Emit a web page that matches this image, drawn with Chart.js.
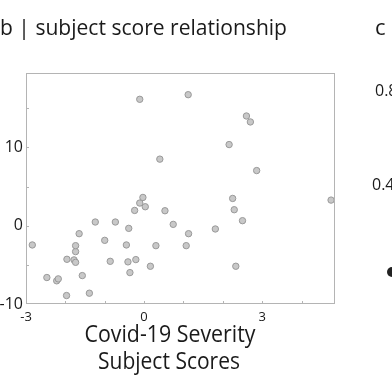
<!DOCTYPE html>
<html>
<head>
<meta charset="utf-8">
<script src="https://cdn.jsdelivr.net/npm/chart.js@4.4.1/dist/chart.umd.min.js"></script>
<style>
  html, body { margin: 0; padding: 0; background: #fff; }
  canvas { display: block; }
</style>
</head>
<body>
<canvas id="grafico" width="392" height="392"></canvas>
<script>
// Covid-19 severity subject scores (x) vs. other subject scores (y)
const puntajesX = [
  -0.11, 0.40, 1.12, 2.60, 2.70, 2.16, 2.86,
  -2.84, -2.47, -2.22, -2.18, -1.97, -1.96, -1.78, -1.74, -1.74, -1.74, -1.65, -1.57, -1.39,
  -1.24, -1.00, -0.86, -0.73, -0.45, -0.41, -0.39, -0.36, -0.24, -0.21, -0.11, -0.03, 0.03,
  0.16, 0.30, 0.53, 0.74,
  2.25, 2.29, 2.50, 1.81, 1.13, 1.07, 2.33, 4.75
];
const puntajesY = [
  16.14, 8.50, 16.73, 14.01, 13.25, 10.36, 7.04,
  -2.46, -6.62, -7.04, -6.79, -8.92, -4.29, -4.37, -4.68, -3.31, -2.55, -1.02, -6.37, -8.62,
  0.47, -1.87, -4.55, 0.47, -2.46, -4.62, -0.34, -5.99, 1.95, -4.33, 2.89, 3.61, 2.42,
  -5.18, -2.55, 1.91, 0.17,
  3.48, 2.04, 0.64, -0.42, -1.02, -2.55, -5.18, 3.27
];
const etiquetasX = [-3, 0, 3];
const etiquetasY = [-10, 0, 10];
const marcasX = [-2, -1, 0, 1, 2, 3, 4];
const marcasY = [-5, 0, 5, 10, 15];

const puntos = puntajesX.map((x, i) => ({ x: x, y: puntajesY[i] }));

// Textos, marco y marcas internas
const decoraciones = {
  id: 'decoraciones',
  afterDraw(chart) {
    const ctx = chart.ctx;
    const area = chart.chartArea;
    const sx = chart.scales.x;
    const sy = chart.scales.y;
    ctx.save();

    // marco del gráfico
    ctx.strokeStyle = '#b4b4b4';
    ctx.lineWidth = 1;
    ctx.strokeRect(area.left + 0.5, area.top + 0.5, area.right - area.left - 1, area.bottom - area.top - 1);

    // marcas hacia adentro
    ctx.beginPath();
    marcasX.forEach(v => {
      const px = Math.round(sx.getPixelForValue(v)) + 0.5;
      ctx.moveTo(px, area.bottom);
      ctx.lineTo(px, area.bottom - 3);
    });
    marcasY.forEach(v => {
      const py = Math.round(sy.getPixelForValue(v)) + 0.5;
      ctx.moveTo(area.left, py);
      ctx.lineTo(area.left + 3, py);
    });
    ctx.stroke();

    ctx.fillStyle = '#1a1a1a';
    ctx.textBaseline = 'alphabetic';

    // título
    ctx.font = '22px "Open Sans"';
    ctx.textAlign = 'left';
    ctx.fillText('b | subject score relationship', 0, 35, 287);
    ctx.fillText('c', 375, 35);

    // etiqueta del eje x
    ctx.font = '23px "Open Sans"';
    ctx.textAlign = 'center';
    ctx.fillText('Covid-19 Severity', 170, 342, 171);
    ctx.fillText('Subject Scores', 169, 369, 142);

    // panel vecino recortado
    ctx.font = '16px "Open Sans"';
    ctx.textAlign = 'left';
    ctx.fillText('0.8', 375, 96);
    ctx.fillText('0.4', 372, 190);
    ctx.fillStyle = '#222';
    ctx.beginPath();
    ctx.arc(392, 272, 5, 0, Math.PI * 2);
    ctx.fill();

    ctx.restore();
  }
};

const ctx = document.getElementById('grafico').getContext('2d');
const grafico = new Chart(ctx, {
  type: 'scatter',
  data: {
    datasets: [{
      data: puntos,
      backgroundColor: '#c8c8c8',
      borderColor: '#999999',
      borderWidth: 1,
      pointRadius: 3.2
    }]
  },
  options: {
    responsive: false,
    animation: false,
    layout: { padding: { top: 73, right: 57, left: 0, bottom: 0 } },
    plugins: {
      legend: { display: false },
      tooltip: { enabled: false }
    },
    scales: {
      x: {
        type: 'linear',
        min: -3,
        max: 4.85,
        afterFit(scale) { scale.height = 88; },
        grid: { display: false, drawTicks: false },
        border: { display: false },
        afterBuildTicks(scale) { scale.ticks = etiquetasX.map(v => ({ value: v })); },
        ticks: {
          color: '#1a1a1a',
          font: { family: 'Open Sans', size: 13 },
          padding: 5,
          maxRotation: 0,
          autoSkip: false
        }
      },
      y: {
        type: 'linear',
        min: -10,
        max: 19.5,
        afterFit(scale) { scale.width = 26; },
        grid: { display: false, drawTicks: false },
        border: { display: false },
        afterBuildTicks(scale) { scale.ticks = etiquetasY.map(v => ({ value: v })); },
        ticks: {
          color: '#1a1a1a',
          font: { family: 'Open Sans', size: 16 },
          padding: 3,
          autoSkip: false
        }
      }
    }
  },
  plugins: [decoraciones]
});
</script>
</body>
</html>
